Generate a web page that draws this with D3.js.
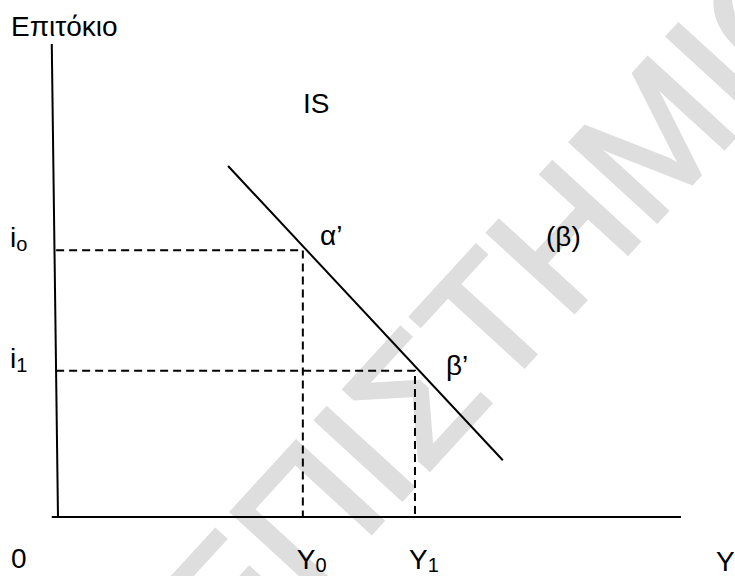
<!DOCTYPE html>
<html><head><meta charset="utf-8">
<script src="https://cdn.jsdelivr.net/npm/d3@7"></script>
<style>body{margin:0;background:#fff}svg{display:block}</style>
</head><body>
<script>
// Data (domain units)
const axisY = [[-0.1, 10], [0, 0]];
const axisX = [[-0.1, 0], [10, 0]];
const isCurve = [[2.73, 7.42], [7.14, 1.2]];
const equilibria = [
  {name: "α’", Y: 3.93, i: 5.64},
  {name: "β’", Y: 5.73, i: 3.09}
];
const rateTicks = [{base: "i", sub: "o", i: 5.64}, {base: "i", sub: "1", i: 3.09}];
const incomeTicks = [{base: "Y", sub: "0", Y: 3.93}, {base: "Y", sub: "1", Y: 5.73}];
const yTitle = "Επιτόκιο";
const xTitle = "Y";
const curveLabel = "IS";
const panelLabel = "(β)";
const originLabel = "0";
const watermark = "ΕΠΙΣΤΗΜΙΟ";

const W = 735, H = 576;
const x = d3.scaleLinear().domain([0, 10]).range([58, 681]);
const y = d3.scaleLinear().domain([0, 10]).range([517, 44]);
const line = d3.line().x(d => x(d[0])).y(d => y(d[1]));

const svg = d3.select("body").append("svg").attr("width", W).attr("height", H)
  .style("font-family", "'Liberation Sans', Arial, sans-serif");

// watermark
svg.append("text").text(watermark)
  .attr("transform", "translate(505,300) rotate(-47.5)")
  .attr("text-anchor", "middle").attr("dominant-baseline", "central")
  .attr("font-size", 170)
  .attr("fill", "#dedede").attr("stroke", "#dedede").attr("stroke-width", 4);

// axes
svg.append("path").attr("d", line(axisY)).attr("stroke", "#000").attr("stroke-width", 2).attr("fill", "none");
svg.append("path").attr("d", line(axisX)).attr("stroke", "#000").attr("stroke-width", 2).attr("fill", "none");

// dashed guides
equilibria.forEach(e => {
  svg.append("path").attr("d", line([[-0.03, e.i], [e.Y, e.i], [e.Y, 0]]))
    .attr("stroke", "#000").attr("stroke-width", 2).attr("fill", "none")
    .attr("stroke-dasharray", "8,5");
});

// IS curve
svg.append("path").attr("d", line(isCurve)).attr("stroke", "#000").attr("stroke-width", 2).attr("fill", "none");

const fs = 28;
function txt(s, px, py) {
  return svg.append("text").text(s).attr("x", px).attr("y", py).attr("font-size", fs).attr("fill", "#000");
}
txt(yTitle, 11, 36);
txt(curveLabel, 303, 113);
txt(panelLabel, 546, 246);
txt(equilibria[0].name, 320, 245);
txt(equilibria[1].name, 446, 375);
txt(originLabel, 11, 568);
txt(xTitle, 716, 571);

rateTicks.forEach(t => {
  const el = svg.append("text").attr("x", 10).attr("y", y(t.i) - 3).attr("font-size", fs);
  el.append("tspan").text(t.base);
  el.append("tspan").text(t.sub).attr("font-size", 20).attr("dy", 4);
});
incomeTicks.forEach(t => {
  const el = svg.append("text").attr("x", x(t.Y) - 6).attr("y", 569).attr("font-size", fs);
  el.append("tspan").text(t.base);
  el.append("tspan").text(t.sub).attr("font-size", 20).attr("dy", 3);
});
</script>
</body></html>
